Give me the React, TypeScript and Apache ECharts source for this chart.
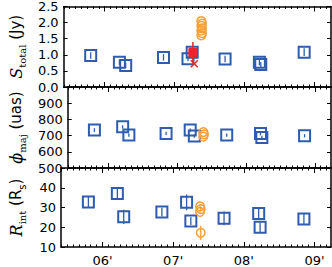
import React, { useEffect, useRef } from "react";
import * as echarts from "echarts";

// ---- data (decimal years) ----
const YEAR_TICKS = [2006, 2007, 2008, 2009];
const blueDates = [2005.8, 2006.21, 2006.3, 2006.84, 2007.19, 2007.25, 2007.72, 2008.21, 2008.23, 2008.85];
const blueFlux = [0.98, 0.77, 0.67, 0.92, 0.88, 1.08, 0.87, 0.77, 0.7, 1.08];
const blueFluxErr = [0.1, 0.08, 0.08, 0.1, 0.08, 0.1, 0.1, 0.1, 0.08, 0.12];
const bluePhi = [734, 754, 703, 713, 734, 697, 703, 713, 689, 699];
const bluePhiErr = [12, 10, 10, 10, 10, 10, 10, 12, 10, 10];
const blueR = [32.8, 37.1, 25.3, 27.7, 32.6, 23.2, 24.5, 26.9, 20.0, 24.2];
const blueRErr = [2.5, 2.5, 3.6, 2.2, 4, 2, 3.5, 2.5, 2.5, 2.5];

const redDates = [2007.26];
const redFlux = [1.07];
const redFluxErr = [0.33];
const redCrossDates = [2007.28];
const redCrossFlux = [0.72];

const orangeDate = 2007.38;
const orangeFlux = [2.05, 1.97, 1.9, 1.82, 1.75, 1.67, 1.6];
const orangePhi = [722, 708, 694];
const orangeR = [30.6, 29.2, 27.8, 17.2];
const orangeRErr = [1, 1, 1, 3.6];

const BLUE = "#2f5cae";
const ORANGE = "#f7a036";
const RED = "#e8262a";

const toM = (d: number) => (d - 2000) * 12;
const X_MIN = 64.95;
const X_MAX = 110.8;

const MONTHS: number[] = [];
for (let m = 65; m <= 110; m++) MONTHS.push(m);
const YEAR_M = YEAR_TICKS.map(toM);

export default function App() {
  const ref = useRef<HTMLDivElement>(null);
  useEffect(() => {
    if (!ref.current) return;
    const chart = echarts.init(ref.current, null, { renderer: "svg" });

    const grids = [
      { left: 58, top: 5, width: 273, height: 82 },
      { left: 58, top: 87, width: 273, height: 81 },
      { left: 58, top: 168, width: 273, height: 82 },
    ];

    const xAxes: any[] = [];
    grids.forEach((_, gi) => {
      const base = {
        type: "value",
        gridIndex: gi,
        min: X_MIN,
        max: X_MAX,
        splitLine: { show: false },
      };
      // bottom major (with labels on last grid)
      xAxes.push({
        ...base,
        position: "bottom",
        axisLine: { show: true, onZero: false, lineStyle: { color: "#000", width: 1.5 } },
        axisTick: { show: true, inside: true, length: 5, customValues: YEAR_M, lineStyle: { color: "#000", width: 1 } },
        axisLabel: {
          show: gi === 2,
          customValues: YEAR_M,
          formatter: (v: number) => String(Math.round(v / 12) % 100).padStart(2, "0") + "'",
          fontFamily: "DejaVu Sans",
          fontSize: 13,
          color: "#000",
          margin: 7,
        },
      });
      // bottom minor
      xAxes.push({
        ...base,
        position: "bottom",
        axisLine: { show: false, onZero: false },
        axisTick: { show: true, inside: true, length: 2.5, customValues: MONTHS, lineStyle: { color: "#000", width: 1 } },
        axisLabel: { show: false },
      });
      // top major
      xAxes.push({
        ...base,
        position: "top",
        axisLine: { show: true, onZero: false, lineStyle: { color: "#000", width: 1.5 } },
        axisTick: { show: true, inside: true, length: 5, customValues: YEAR_M, lineStyle: { color: "#000", width: 1 } },
        axisLabel: { show: false },
      });
      // top minor
      xAxes.push({
        ...base,
        position: "top",
        axisLine: { show: false, onZero: false },
        axisTick: { show: true, inside: true, length: 2.5, customValues: MONTHS, lineStyle: { color: "#000", width: 1 } },
        axisLabel: { show: false },
      });
    });

    const labelStyle = { fontFamily: "DejaVu Sans", fontSize: 13, color: "#000", margin: 5 };
    const rich = {
      i: { fontFamily: "DejaVu Serif", fontStyle: "italic", fontSize: 16, lineHeight: 22, verticalAlign: "middle", color: "#000" },
      sub: { fontFamily: "DejaVu Serif", fontSize: 10, lineHeight: 10, verticalAlign: "bottom", color: "#000" },
      t: { fontFamily: "DejaVu Sans", fontSize: 15, lineHeight: 22, verticalAlign: "middle", color: "#000" },
      ss: { fontFamily: "DejaVu Sans", fontSize: 10, lineHeight: 10, verticalAlign: "bottom", color: "#000" },
    };
    const yDefs = [
      { min: 0, max: 2.5, interval: 0.5, fmt: (v: number) => v.toFixed(1), name: "{i|S}{sub|total}{t| (Jy)}" },
      { min: 500, max: 1000, interval: 100, fmt: (v: number) => (v === 1000 ? "" : String(v)), name: "{i|ϕ}{sub|maj}{t| (uas)}" },
      { min: 10, max: 50, interval: 10, fmt: (v: number) => (v === 50 ? "" : String(v)), name: "{i|R}{sub|int}{t| (R}{ss|s}{t|)}" },
    ];
    const yAxes: any[] = [];
    yDefs.forEach((d, gi) => {
      yAxes.push({
        type: "value",
        gridIndex: gi,
        position: "left",
        min: d.min,
        max: d.max,
        interval: d.interval,
        splitLine: { show: false },
        axisLine: { show: true, onZero: false, lineStyle: { color: "#000", width: 1.5 } },
        axisTick: { show: true, inside: true, length: 4, lineStyle: { color: "#000", width: 1 } },
        axisLabel: { ...labelStyle, formatter: d.fmt },
        name: d.name,
        nameLocation: "middle",
        nameRotate: 90,
        nameGap: 34,
        nameTextStyle: { rich },
      });
      yAxes.push({
        type: "value",
        gridIndex: gi,
        position: "right",
        min: d.min,
        max: d.max,
        interval: d.interval,
        splitLine: { show: false },
        axisLine: { show: true, onZero: false, lineStyle: { color: "#000", width: 1.5 } },
        axisTick: { show: true, inside: true, length: 4, lineStyle: { color: "#000", width: 1 } },
        axisLabel: { show: false },
      });
    });

    const squareSeries = (gi: number, ys: number[], errs: number[]) => ({
      type: "custom",
      xAxisIndex: gi * 4,
      yAxisIndex: gi * 2,
      data: blueDates.map((d, i) => [toM(d), ys[i], errs[i]]),
      renderItem: (_p: any, api: any) => {
        const x = api.value(0), y = api.value(1), e = api.value(2);
        const c = api.coord([x, y]);
        const lo = api.coord([x, y - e]);
        const hi = api.coord([x, y + e]);
        return {
          type: "group",
          children: [
            { type: "line", shape: { x1: c[0], y1: lo[1], x2: c[0], y2: hi[1] }, style: { stroke: BLUE, lineWidth: 1.3 } },
            { type: "rect", shape: { x: c[0] - 5.5, y: c[1] - 5.5, width: 11, height: 11 }, style: { stroke: BLUE, fill: "none", lineWidth: 2 } },
          ],
        };
      },
    });

    const circleSeries = (gi: number, ys: number[], errs: number[] | null) => ({
      type: "custom",
      xAxisIndex: gi * 4,
      yAxisIndex: gi * 2,
      data: ys.map((v, i) => [toM(orangeDate) + (i % 2) * 0.12, v, errs ? errs[i] : 0]),
      renderItem: (_p: any, api: any) => {
        const x = api.value(0), y = api.value(1), e = api.value(2);
        const c = api.coord([x, y]);
        const lo = api.coord([x, y - e]);
        const hi = api.coord([x, y + e]);
        return {
          type: "group",
          children: [
            { type: "line", shape: { x1: c[0], y1: lo[1], x2: c[0], y2: hi[1] }, style: { stroke: ORANGE, lineWidth: 1.3 } },
            { type: "circle", shape: { cx: c[0], cy: c[1], r: 4.3 }, style: { stroke: ORANGE, fill: "none", lineWidth: 1.5 } },
          ],
        };
      },
    });

    const series: any[] = [
      squareSeries(0, blueFlux, blueFluxErr),
      squareSeries(1, bluePhi, bluePhiErr),
      squareSeries(2, blueR, blueRErr),
      {
        type: "custom",
        xAxisIndex: 0,
        yAxisIndex: 0,
        data: redDates.map((d, i) => [toM(d), redFlux[i], redFluxErr[i]]),
        renderItem: (_p: any, api: any) => {
          const x = api.value(0), y = api.value(1), e = api.value(2);
          const c = api.coord([x, y]);
          const lo = api.coord([x, y - e]);
          const hi = api.coord([x, y + e]);
          return {
            type: "group",
            children: [
              { type: "line", shape: { x1: c[0], y1: lo[1], x2: c[0], y2: hi[1] }, style: { stroke: RED, lineWidth: 1.5 } },
              { type: "rect", shape: { x: c[0] - 4, y: c[1] - 4, width: 8, height: 8 }, style: { fill: RED, stroke: RED, lineWidth: 1 } },
            ],
          };
        },
      },
      {
        type: "custom",
        xAxisIndex: 0,
        yAxisIndex: 0,
        data: redCrossDates.map((d, i) => [toM(d), redCrossFlux[i]]),
        renderItem: (_p: any, api: any) => {
          const c = api.coord([api.value(0), api.value(1)]);
          const s = 3.5;
          return {
            type: "group",
            children: [
              { type: "line", shape: { x1: c[0] - s, y1: c[1] - s, x2: c[0] + s, y2: c[1] + s }, style: { stroke: RED, lineWidth: 1.5 } },
              { type: "line", shape: { x1: c[0] - s, y1: c[1] + s, x2: c[0] + s, y2: c[1] - s }, style: { stroke: RED, lineWidth: 1.5 } },
            ],
          };
        },
      },
      circleSeries(0, orangeFlux, null),
      circleSeries(1, orangePhi, null),
      circleSeries(2, orangeR, orangeRErr),
    ];

    chart.setOption({
      animation: false,
      backgroundColor: "#fff",
      grid: grids,
      xAxis: xAxes,
      yAxis: yAxes,
      series,
    });
    return () => chart.dispose();
  }, []);

  return (
    <div
      ref={ref}
      style={{ position: "fixed", left: 0, top: 0, width: 332, height: 267 }}
    />
  );
}
